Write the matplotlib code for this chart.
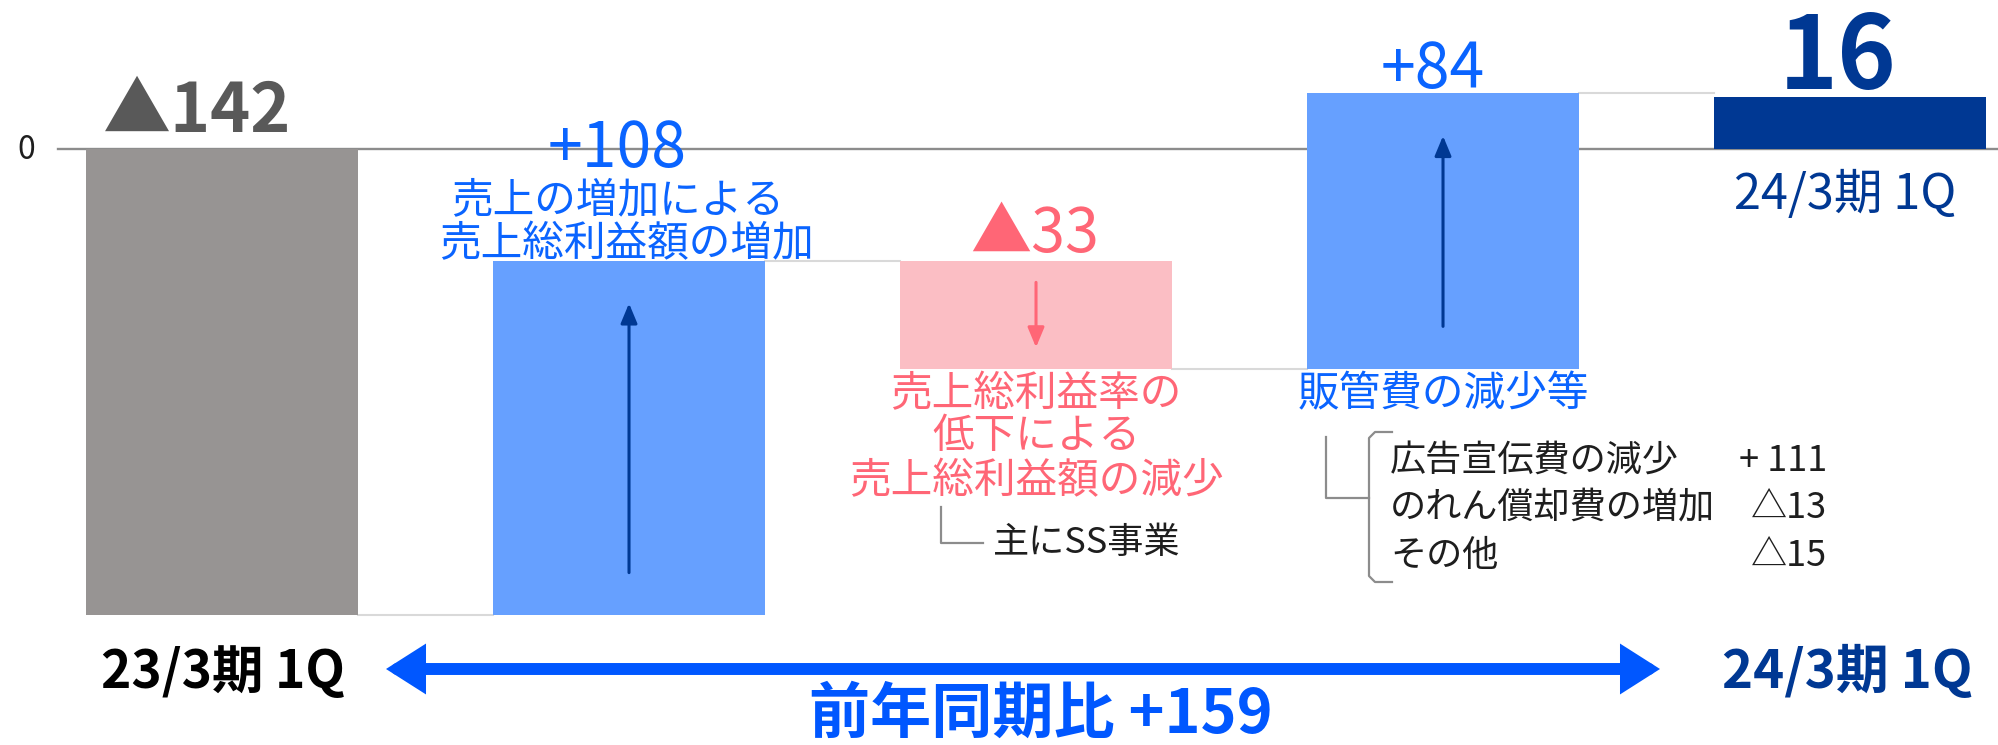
import numpy as np
import matplotlib
matplotlib.use("Agg")
import matplotlib.pyplot as plt
from matplotlib.lines import Line2D

plt.rcParams['font.family'] = ['Noto Sans CJK JP', 'DejaVu Sans']

# --- data (営業利益の増減, 百万円) ---
period_labels = ['23/3期 1Q', '24/3期 1Q']
start_value = -142
deltas = [108, -33, 84]
end_value = 16
value_labels = ['▲142', '+108', '▲33', '+84', '16']
yoy_label = '前年同期比 +159'
sga_items = ['広告宣伝費の減少', 'のれん償却費の増加', 'その他']
sga_values = ['+ 111', '△13', '△15']

# --- colours ---
GRAY_BAR = '#979493'
BLUE_BAR = '#66A0FF'
PINK_BAR = '#FBBEC4'
NAVY = '#003893'
BLUE_TXT = '#0A64FF'
PINK_TXT = '#FF6676'
DARK = '#1E1E1E'

W, H = 1998, 745
PT = 0.72  # pixels -> points at dpi 100

# waterfall geometry
levels = start_value + np.cumsum([0] + deltas)          # level after each step
heights = np.array([start_value] + deltas + [end_value])
bottoms = np.concatenate([[0], levels[:-1], [0]])
ends = bottoms + heights
x = np.arange(len(heights))
bar_w = 0.666
colors = [GRAY_BAR] + [BLUE_BAR if d > 0 else PINK_BAR for d in deltas] + [NAVY]

fig = plt.figure(figsize=(W / 100, H / 100), dpi=100)
ax = fig.add_axes([0, 0, 1, 1])
ax.set_xlim(-0.5455, 4.3636)
ax.set_ylim(-181.5, 45.4)
ax.axis('off')


def fx(px):
    return px / W


def fy(py):
    return 1 - py / H


# zero line and its label
ax.axhline(0, xmin=fx(58), xmax=1, color='#8C8C8C', lw=1.7, zorder=1)
fig.text(fx(26), fy(150), '0', fontsize=23, ha='center', va='center', color=DARK)

# bars
ax.bar(x, heights, bottom=bottoms, width=bar_w, color=colors, zorder=2)

# connectors between bars
for i in range(len(heights) - 1):
    ax.plot([x[i] + bar_w / 2, x[i + 1] - bar_w / 2], [ends[i], ends[i]],
            color='#D9D9D9', lw=1.5, zorder=1)

# arrows inside the step bars
for i, d in enumerate(deltas, start=1):
    inset = min(13, 0.2 * abs(d)) * np.sign(d)
    ax.annotate('', xy=(x[i], ends[i] - inset), xytext=(x[i], bottoms[i] + inset),
                arrowprops=dict(arrowstyle='-|>,head_length=0.6,head_width=0.25',
                                color=NAVY if d > 0 else PINK_TXT, lw=2.2,
                                mutation_scale=20, shrinkA=0, shrinkB=0),
                zorder=3)


def put(i, y, text, dx, dy, **kw):
    ax.annotate(text, (x[i], y), xytext=(dx * PT, dy * PT), textcoords='offset points',
                ha='center', va='baseline', **kw)


# value labels
put(0, 0, value_labels[0], -25, 17, fontsize=49, weight='bold', color='#595959')
put(1, ends[1], value_labels[1], -12, 94, fontsize=45, color=BLUE_TXT)
put(2, bottoms[2], value_labels[2], -1, 9, fontsize=44, color=PINK_TXT)
put(3, ends[3], value_labels[3], -10, 5, fontsize=45, color=BLUE_TXT)
put(4, end_value, value_labels[4], -12, 8, fontsize=72, weight='bold', color=NAVY)
put(4, 0, period_labels[1], -5, -60, fontsize=35, color=NAVY)

# step descriptions
put(1, ends[1], '売上の増加による', -11, 49, fontsize=30, color=BLUE_TXT)
put(1, ends[1], '売上総利益額の増加', -3, 5, fontsize=30, color=BLUE_TXT)
for line, dy in zip(['売上総利益率の', '低下による', '売上総利益額の減少'], [-37, -79, -124]):
    put(2, ends[2], line, 0, dy, fontsize=30, color=PINK_TXT)
put(3, bottoms[3], '販管費の減少等', 0, -37, fontsize=30, color=BLUE_TXT)


def fline(xs, ys, **kw):
    fig.add_artist(Line2D([fx(v) for v in xs], [fy(v) for v in ys],
                          transform=fig.transFigure, **kw))


# note under the pink step
fline([941, 941, 983], [507, 543, 543], color='#8C8C8C', lw=1.6)
fig.text(fx(993), fy(553), '主にSS事業', fontsize=26, color=DARK, va='baseline')

# breakdown of SG&A decrease
fline([1326, 1326, 1369], [437, 498, 498], color='#8C8C8C', lw=1.6)
fline([1392, 1375, 1369, 1369, 1375, 1392], [432, 432, 438, 576, 582, 582],
      color='#8C8C8C', lw=1.6)
for row, (item, val) in enumerate(zip(sga_items, sga_values)):
    base = 471 + row * 47.5
    fig.text(fx(1390), fy(base), item, fontsize=26, color=DARK, va='baseline')
    fig.text(fx(1827), fy(base), val, fontsize=26, color=DARK, va='baseline', ha='right')

# bottom: period labels and the YoY arrow
fig.text(fx(223), fy(688), period_labels[0], fontsize=37, weight='bold',
         color='black', ha='center', va='baseline')
fig.text(fx(1847), fy(688), period_labels[1], fontsize=38, weight='bold',
         color=NAVY, ha='center', va='baseline')
ax.annotate('', xy=(fx(1660), fy(669)), xytext=(fx(386), fy(669)),
            xycoords='figure fraction', textcoords='figure fraction',
            arrowprops=dict(arrowstyle='<|-|>,head_length=0.55,head_width=0.35',
                            color='#0057FF', lw=8.6, mutation_scale=30,
                            shrinkA=0, shrinkB=0, joinstyle='miter'))
fig.text(fx(1041), fy(733), yoy_label, fontsize=44, weight='bold',
         color='#0057FF', ha='center', va='baseline')

fig.savefig('out.png', dpi=100)
